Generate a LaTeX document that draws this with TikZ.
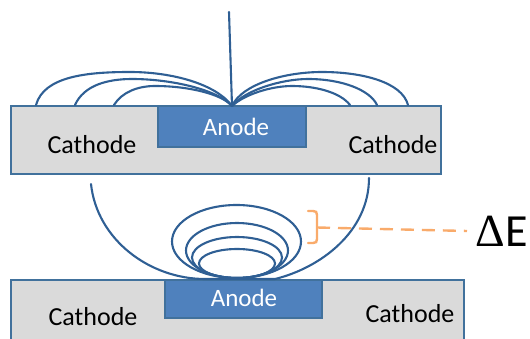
\documentclass[tikz,border=0pt]{standalone}
\usepackage{fontspec}
\setmainfont{Carlito}
\newfontfamily\deltafont{Liberation Serif}
\definecolor{wireblue}{HTML}{2F5F94}
\definecolor{boxedge}{HTML}{41719C}
\definecolor{anodefill}{HTML}{4F81BD}
\definecolor{cathfill}{HTML}{DADADA}
\definecolor{brace}{HTML}{F79646}
\tikzset{
  cathodebox/.style={draw=boxedge,fill=cathfill,line width=2.2pt,rectangle,inner sep=0pt,outer sep=0pt,anchor=north west},
  anodebox/.style={draw=boxedge,fill=anodefill,line width=2.2pt,rectangle,inner sep=0pt,outer sep=0pt,anchor=north west},
  cathodelabel/.style={font=\fontsize{26}{28}\selectfont,text=black,inner sep=0pt},
  anodelabel/.style={font=\fontsize{25}{28}\selectfont,text=white,inner sep=0pt},
  fieldline/.style={draw=wireblue,line width=2.1pt,line cap=round},
  orangeline/.style={draw=brace!80!white,line width=2.4pt}
}
\begin{document}
\begin{tikzpicture}[x=1pt,y=-1pt]
\useasboundingbox (0,0) rectangle (530,339);
% top electrode
\node[cathodebox,minimum width=430pt,minimum height=68pt] (topcath) at (11,106) {};
\node[anodebox,minimum width=148pt,minimum height=41pt] (topanode) at (158,106) {};
\node[anodelabel] (topanodetext) at (236,127) {Anode};
\node[cathodelabel] (topcatheL) at (92,145) {Cathode};
\node[cathodelabel] (topcatheR) at (393,145) {Cathode};
\coordinate (wiretop) at (229,12);
\coordinate (apex) at (232,106);
\draw[fieldline] (wiretop) -- (apex);
\draw[fieldline] (36,105) .. controls (44,76) and (88,72) .. (130,72) .. controls (172,72) and (216,84) .. (apex);
\draw[fieldline] (75,105) .. controls (84,85) and (108,79) .. (132,79) .. controls (172,79) and (218,90) .. (apex);
\draw[fieldline] (114,105) .. controls (122,92) and (138,86) .. (155,86) .. controls (188,86) and (222,94) .. (apex);
\draw[fieldline] (408,105) .. controls (402,82) and (362,72) .. (322,72) .. controls (285,72) and (242,84) .. (apex);
\draw[fieldline] (377,105) .. controls (370,90) and (342,79) .. (308,79) .. controls (282,79) and (245,90) .. (apex);
\draw[fieldline] (350,105) .. controls (340,92) and (315,86) .. (292,86) .. controls (272,86) and (245,94) .. (apex);
% bottom electrode
\node[cathodebox,minimum width=453pt,minimum height=70pt] (botcath) at (11,280) {};
\node[anodebox,minimum width=157pt,minimum height=38pt] (botanode) at (165,280) {};
\node[anodelabel] (botanodetext) at (244,298) {Anode};
\node[cathodelabel] (botcatheL) at (93,317) {Cathode};
\node[cathodelabel] (botcatheR) at (410,314) {Cathode};
\coordinate (bigL) at (91,184);
\coordinate (bigR) at (369,178);
\coordinate (base) at (237,279);
\draw[fieldline] (bigL) .. controls (97,240) and (150,279) .. (205,279) -- (base) -- (275,279) .. controls (320,268) and (369,232) .. (bigR);
\draw[fieldline] (236.5,241.5) ellipse [x radius=64.5,y radius=36.5];
\draw[fieldline] (237,250.5) ellipse [x radius=51,y radius=27.5];
\draw[fieldline] (237,257.5) ellipse [x radius=45,y radius=20.5];
\draw[fieldline] (237,263.5) ellipse [x radius=38,y radius=14.5];
% delta E
\node[font=\fontsize{46}{48}\deltafont\selectfont,text=black,inner sep=0pt,anchor=east] (deltaE) at (528,231) {Δ\fontspec{Carlito}E};
\coordinate (brtop) at (308,211);
\coordinate (brbot) at (308,243);
\coordinate (brmid) at (317,227.5);
\draw[orangeline,line cap=round] (brtop) -- (313,211) .. controls (316,211) and (317,212) .. (317,215) -- (brmid) -- (317,239) .. controls (317,242) and (316,243) .. (313,243) -- (brbot);
\draw[orangeline,dash pattern=on 13pt off 8pt] (brmid) -- (467,231);
\end{tikzpicture}
\end{document}
